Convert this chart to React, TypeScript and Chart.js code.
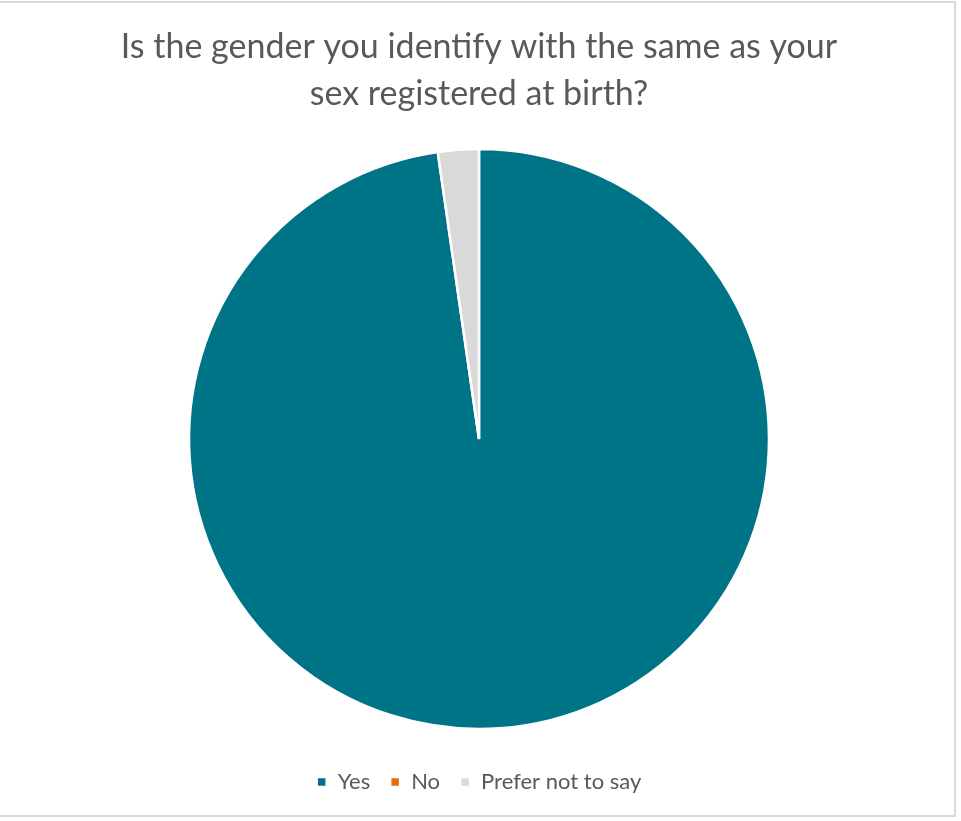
import React, { useEffect, useRef } from "react";
import { Chart, registerables } from "chart.js";

Chart.register(...registerables);

const titleLines = ["Is the gender you identify with the same as your", "sex registered at birth?"];
const categories = ["Yes", "No", "Prefer not to say"];
const counts = [43, 0, 1];
const colors = ["#007487", "#E46C0A", "#D9D9D9"];

const FONT = "Lato, 'Open Sans', sans-serif";

export default function App() {
  const ref = useRef<HTMLCanvasElement | null>(null);
  useEffect(() => {
    if (!ref.current) return;
    const chart = new Chart(ref.current, {
      type: "pie",
      data: {
        labels: categories,
        datasets: [
          {
            data: counts,
            backgroundColor: colors,
            borderColor: "#ffffff",
            borderWidth: 2.5,
            radius: 290,
          },
        ],
      },
      options: {
        animation: false,
        responsive: true,
        maintainAspectRatio: false,
        layout: { padding: { top: 0, bottom: 18, left: 0, right: 0 } },
        plugins: {
          title: {
            display: true,
            text: titleLines,
            color: "#595959",
            font: { family: FONT, size: 34, weight: "normal", lineHeight: 1.382 },
            padding: { top: 24, bottom: 9 },
          },
          legend: {
            position: "bottom",
            labels: {
              color: "#595959",
              font: { family: FONT, size: 22 },
              boxWidth: 10,
              boxHeight: 10,
              padding: 20,
            },
          },
          tooltip: { enabled: false },
        },
      },
    });
    return () => chart.destroy();
  }, []);
  return (
    <div style={{ position: "fixed", left: 0, top: 0, width: 961, height: 821, background: "#fff" }}>
      <div
        style={{
          position: "absolute",
          left: -4,
          top: 1,
          width: 960,
          height: 816,
          border: "2px solid #d9d9d9",
          boxSizing: "border-box",
        }}
      />
      <div style={{ position: "absolute", left: 0, top: 0, width: 958, height: 821 }}>
        <canvas ref={ref} />
      </div>
    </div>
  );
}
